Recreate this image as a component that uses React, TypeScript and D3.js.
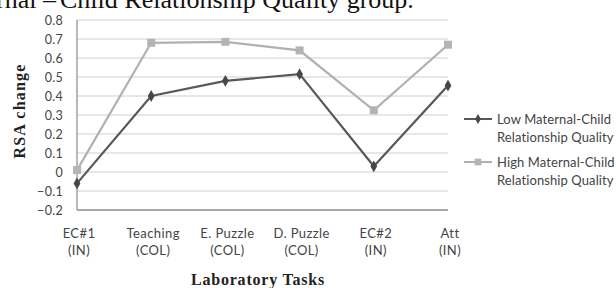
import React, { useEffect, useRef } from 'react';
import * as d3 from 'd3';

// laboratory tasks (two-line labels)
const tasks = ['EC#1', 'Teaching', 'E. Puzzle', 'D. Puzzle', 'EC#2', 'Att'];
const taskTypes = ['(IN)', '(COL)', '(COL)', '(COL)', '(IN)', '(IN)'];

// RSA change per group
const lowQuality = [-0.06, 0.4, 0.48, 0.515, 0.03, 0.455];
const highQuality = [0.01, 0.68, 0.685, 0.64, 0.325, 0.67];

const yTicks = [-0.2, -0.1, 0, 0.1, 0.2, 0.3, 0.4, 0.5, 0.6, 0.7, 0.8];

const seriesNames = [
  ['Low Maternal-Child', 'Relationship Quality'],
  ['High Maternal-Child', 'Relationship Quality'],
];

const sansFont = 'Lato, "Open Sans", sans-serif';
const serifFont = '"Liberation Serif", "DejaVu Serif", serif';

function App() {
  const ref = useRef<SVGSVGElement>(null);

  useEffect(() => {
    const svg = d3.select(ref.current);
    svg.selectAll('*').remove();

    const left = 77, right = 448, top = 20, bottom = 210;

    const x = d3.scalePoint<string>().domain(tasks).range([left, right]);
    const y = d3.scaleLinear().domain([-0.2, 0.8]).range([bottom, top]);

    // caption fragment cut off at the top
    const cap = svg.append('text')
      .attr('y', 8)
      .style('font-family', serifFont)
      .style('font-size', '26px')
      .attr('fill', '#111');
    cap.append('tspan').attr('x', 56).attr('text-anchor', 'end').text('Maternal –');
    cap.append('tspan').attr('x', 60).attr('text-anchor', 'start').text('Child Relationship Quality group.');

    // gridlines
    svg.append('g')
      .selectAll('line')
      .data(yTicks.filter(d => d > -0.2))
      .join('line')
      .attr('x1', left)
      .attr('x2', right)
      .attr('y1', d => y(d))
      .attr('y2', d => y(d))
      .attr('stroke', '#cfcfcf')
      .attr('stroke-width', 1);

    // axes lines
    svg.append('line')
      .attr('x1', left).attr('x2', left)
      .attr('y1', top).attr('y2', bottom)
      .attr('stroke', '#8a8a8a').attr('stroke-width', 1.2);
    svg.append('line')
      .attr('x1', left).attr('x2', right)
      .attr('y1', bottom).attr('y2', bottom)
      .attr('stroke', '#8a8a8a').attr('stroke-width', 1.5);

    // y tick labels
    svg.append('g')
      .selectAll('text')
      .data(yTicks)
      .join('text')
      .attr('x', 63)
      .attr('y', d => y(d) + 4.5)
      .attr('text-anchor', 'end')
      .style('font-family', sansFont)
      .style('font-size', '12.5px')
      .style('letter-spacing', '0.3px')
      .attr('fill', '#444')
      .text(d => (d === 0 ? '0' : d3.format('.1f')(d)));

    // x category labels
    const cat = svg.append('g')
      .selectAll('text')
      .data(tasks)
      .join('text')
      .attr('text-anchor', 'middle')
      .style('font-family', sansFont)
      .style('font-size', '13px')
      .style('letter-spacing', '0.4px')
      .attr('fill', '#444');
    cat.append('tspan')
      .attr('x', d => (x(d) as number) + 2)
      .attr('y', 238)
      .text(d => d);
    cat.append('tspan')
      .attr('x', d => (x(d) as number) + 2)
      .attr('y', 255)
      .text((d, i) => taskTypes[i]);

    // axis titles
    svg.append('text')
      .attr('transform', 'translate(25,111) rotate(-90)')
      .attr('text-anchor', 'middle')
      .style('font-family', serifFont)
      .style('font-size', '16px')
      .style('font-weight', 'bold')
      .style('letter-spacing', '1.2px')
      .attr('fill', '#222')
      .text('RSA change');
    svg.append('text')
      .attr('x', 258)
      .attr('y', 285)
      .attr('text-anchor', 'middle')
      .style('font-family', serifFont)
      .style('font-size', '16px')
      .style('font-weight', 'bold')
      .style('letter-spacing', '0.8px')
      .attr('fill', '#222')
      .text('Laboratory Tasks');

    const line = d3.line<number>()
      .x((d, i) => x(tasks[i]) as number)
      .y(d => y(d));

    const series = [
      { values: lowQuality, stroke: '#585858', marker: '#474747', shape: d3.symbolDiamond, size: 40 },
      { values: highQuality, stroke: '#b0b0b0', marker: '#b4b4b4', shape: d3.symbolSquare, size: 64 },
    ];

    // draw high first so low sits above it
    [series[1], series[0]].forEach(s => {
      svg.append('path')
        .datum(s.values)
        .attr('d', line)
        .attr('fill', 'none')
        .attr('stroke', s.stroke)
        .attr('stroke-width', 2.2);
      svg.append('g')
        .selectAll('path')
        .data(s.values)
        .join('path')
        .attr('transform', (d, i) => `translate(${x(tasks[i])},${y(d)})`)
        .attr('d', d3.symbol().type(s.shape).size(s.size))
        .attr('fill', s.marker);
    });

    // legend
    const legend = svg.append('g')
      .selectAll('g')
      .data(series)
      .join('g')
      .attr('transform', (d, i) => `translate(464,${119 + i * 43})`);
    legend.append('line')
      .attr('x1', 0).attr('x2', 28)
      .attr('stroke', d => d.stroke)
      .attr('stroke-width', 2);
    legend.append('path')
      .attr('transform', 'translate(14,0)')
      .attr('d', d => d3.symbol().type(d.shape).size(d.size * 0.7)())
      .attr('fill', d => d.marker);
    const lt = legend.append('text')
      .style('font-family', sansFont)
      .style('font-size', '13px')
      .style('letter-spacing', '0.1px')
      .attr('fill', '#444');
    lt.append('tspan').attr('x', 33).attr('y', 4.5).text((d, i) => seriesNames[i][0]);
    lt.append('tspan').attr('x', 33).attr('y', 22.5).text((d, i) => seriesNames[i][1]);
  }, []);

  return (
    <svg
      ref={ref}
      width={616}
      height={288}
      style={{ position: 'absolute', left: 0, top: 0, background: '#fff' }}
    />
  );
}

export default App;
